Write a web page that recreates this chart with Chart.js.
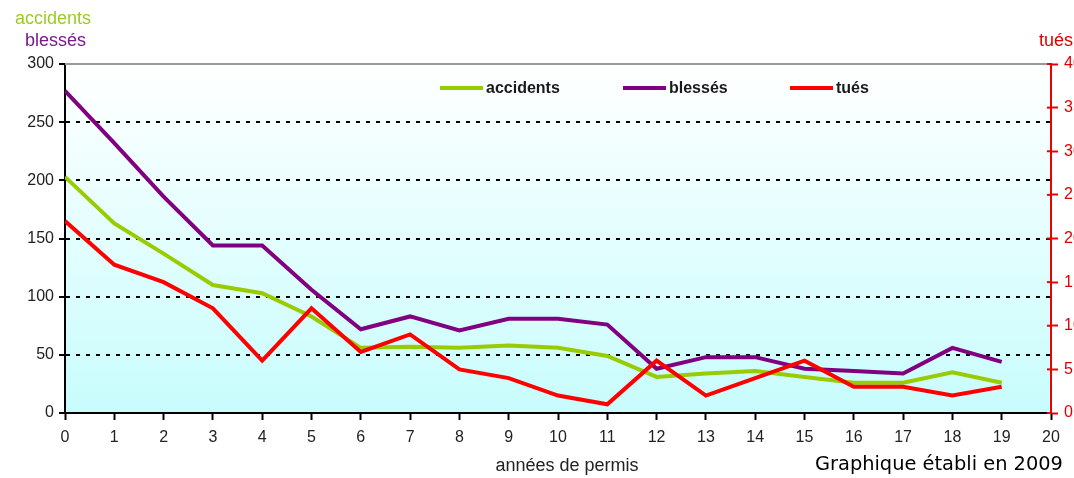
<!DOCTYPE html>
<html>
<head>
<meta charset="utf-8">
<script src="https://cdn.jsdelivr.net/npm/chart.js@4/dist/chart.umd.min.js"></script>
<style>
html,body{margin:0;padding:0;background:#fff;}
#wrap{width:1074px;height:478px;position:relative;}
</style>
</head>
<body>
<div id="wrap"><canvas id="c"></canvas></div>
<script>
const years = [0,1,2,3,4,5,6,7,8,9,10,11,12,13,14,15,16,17,18,19];
const accidents = [203,163,137,110,103,83,56,57,56,58,56,49,31,34,36,31,26,26,35,26];
const blesses = [277,232,186,144,144,106,72,83,71,81,81,76,38,48,48,38,36,34,56,44];
const tues = [22,17,15,12,6,12,7,9,5,4,2,1,6,2,4,6,3,3,2,3];
const seriesLabels = ['accidents','blessés','tués'];
const seriesColors = ['#99cc00','#800080','#ff0000'];

const pts = arr => years.map((x,i)=>({x:x,y:arr[i]}));
const FONT = "'Liberation Sans', Arial, sans-serif";

const decor = {
  id:'decor',
  beforeDraw(chart){
    const {ctx, chartArea:a} = chart;
    const g = ctx.createLinearGradient(0,a.top,0,a.bottom);
    g.addColorStop(0,'#ffffff');
    g.addColorStop(1,'#c8fcfc');
    ctx.save();
    ctx.fillStyle = g;
    ctx.fillRect(a.left,a.top,a.right-a.left,a.bottom-a.top);
    ctx.restore();
  },
  afterDatasetsDraw(chart){
    const {ctx, chartArea:a} = chart;
    ctx.save();
    // top border line
    const yTop = chart.scales.y.getPixelForValue(300);
    ctx.strokeStyle = '#999999';
    ctx.lineWidth = 2;
    ctx.beginPath();ctx.moveTo(a.left,yTop);ctx.lineTo(a.right,yTop);ctx.stroke();
    // inward part of right ticks
    const y1 = chart.scales.y1;
    ctx.strokeStyle = '#ee0000';
    ctx.lineWidth = 2;
    y1.ticks.forEach(t=>{
      const py = y1.getPixelForValue(t.value);
      ctx.beginPath();ctx.moveTo(y1.left-4,py);ctx.lineTo(y1.left,py);ctx.stroke();
    });
    // legend inside plot
    const lx = [440,623,790];
    const ly = 88;
    ctx.font = "bold 16px " + FONT;
    ctx.textBaseline = 'middle';
    ctx.textAlign = 'left';
    chart.data.datasets.forEach((ds,i)=>{
      const k = seriesLabels.indexOf(ds.label);
      ctx.strokeStyle = ds.borderColor;
      ctx.lineWidth = 4;
      ctx.beginPath();ctx.moveTo(lx[k],ly);ctx.lineTo(lx[k]+43,ly);ctx.stroke();
      ctx.fillStyle = '#1a1a1a';
      ctx.fillText(ds.label, lx[k]+46, ly+1);
    });
    ctx.restore();
  },
  afterDraw(chart){
    const {ctx} = chart;
    ctx.save();
    ctx.textBaseline = 'middle';
    ctx.font = "18px " + FONT;
    ctx.textAlign = 'left';
    ctx.fillStyle = '#99cc22';
    ctx.fillText('accidents', 15, 19);
    ctx.fillStyle = '#7a1a8a';
    ctx.fillText('blessés', 25, 41);
    ctx.fillStyle = '#e00000';
    ctx.textAlign = 'right';
    ctx.fillText('tués', 1073, 41);
    ctx.fillStyle = '#222222';
    ctx.textAlign = 'center';
    ctx.fillText('années de permis', 567, 466);
    // footnote
    let size = 20;
    const fam = "'Comic Sans MS', 'DejaVu Sans', sans-serif";
    ctx.font = size + "px " + fam;
    const w = ctx.measureText('Graphique établi en 2009').width;
    size = Math.min(22, size * 248 / w);
    ctx.font = size.toFixed(1) + "px " + fam;
    ctx.fillStyle = '#000000';
    ctx.textAlign = 'left';
    ctx.textBaseline = 'alphabetic';
    ctx.fillText('Graphique établi en 2009', 815, 470);
    ctx.restore();
  }
};

new Chart(document.getElementById('c'), {
  type:'line',
  data:{
    datasets:[
      {label:seriesLabels[0], data:pts(accidents), borderColor:seriesColors[0], yAxisID:'y', order:2},
      {label:seriesLabels[1], data:pts(blesses), borderColor:seriesColors[1], yAxisID:'y', order:1},
      {label:seriesLabels[2], data:pts(tues), borderColor:seriesColors[2], yAxisID:'y1', order:0}
    ]
  },
  options:{
    responsive:true,
    maintainAspectRatio:false,
    animation:false,
    devicePixelRatio:1,
    layout:{padding:{top:64,left:0,right:0,bottom:0}},
    elements:{
      line:{borderWidth:4, tension:0, fill:false},
      point:{radius:0, hoverRadius:0}
    },
    plugins:{legend:{display:false}, tooltip:{enabled:false}},
    scales:{
      x:{
        type:'linear', min:0, max:20,
        ticks:{stepSize:1, font:{family:FONT,size:16}, color:'#222', padding:8, maxRotation:0, autoSkip:false},
        grid:{drawOnChartArea:false, drawTicks:true, tickLength:7, tickColor:'#000', tickWidth:2},
        border:{color:'#000', width:2},
        afterFit(s){ s.height = 65; }
      },
      y:{
        position:'left', min:0, max:300,
        ticks:{stepSize:50, font:{family:FONT,size:16}, color:'#222', padding:5},
        grid:{
          color:ctx => (ctx.tick && (ctx.tick.value===0 || ctx.tick.value===300)) ? 'rgba(0,0,0,0)' : '#000',
          lineWidth:2, tickLength:6, tickColor:'#000', tickWidth:2, tickBorderDash:[]
        },
        border:{color:'#000', width:2, dash:[4,6]},
        afterFit(s){ s.width = 65; }
      },
      y1:{
        position:'right', min:0, max:40,
        ticks:{stepSize:5, font:{family:FONT,size:16}, color:'#e00000', padding:6},
        grid:{drawOnChartArea:false, tickLength:7, tickColor:'#ee0000', tickWidth:2},
        border:{color:'#ee0000', width:2},
        afterFit(s){ s.width = 23; }
      }
    }
  },
  plugins:[decor]
});
</script>
</body>
</html>
